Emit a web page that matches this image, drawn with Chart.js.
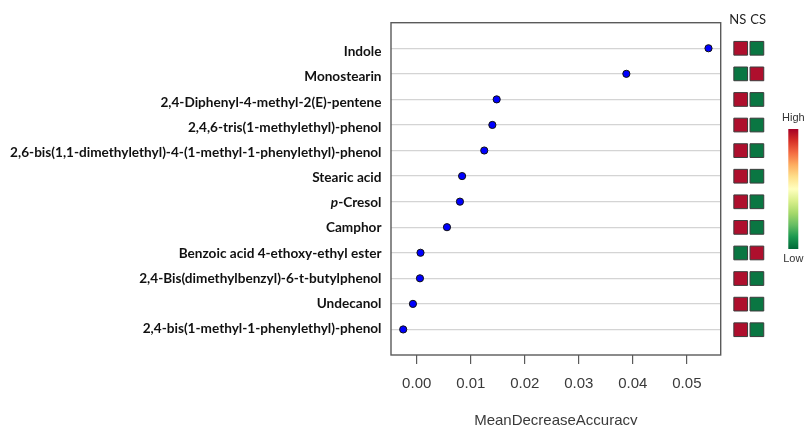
<!DOCTYPE html>
<html>
<head>
<meta charset="utf-8">
<script src="https://cdn.jsdelivr.net/npm/chart.js@4.4.1/dist/chart.umd.min.js"></script>
<style>
  html, body { margin: 0; padding: 0; background: #fff; }
  #wrap { position: relative; width: 805px; height: 425px; overflow: hidden; }
  #dots { position: absolute; left: 0; top: 0; }
  #heat { position: absolute; left: 720px; top: 0; }
</style>
</head>
<body>
<div id="wrap">
  <canvas id="dots" width="805" height="425"></canvas>
  <canvas id="heat" width="85" height="425"></canvas>
</div>
<script>
// compounds, top to bottom
const compounds = [
  'Indole',
  'Monostearin',
  '2,4-Diphenyl-4-methyl-2(E)-pentene',
  '2,4,6-tris(1-methylethyl)-phenol',
  '2,6-bis(1,1-dimethylethyl)-4-(1-methyl-1-phenylethyl)-phenol',
  'Stearic acid',
  'p-Cresol',
  'Camphor',
  'Benzoic acid 4-ethoxy-ethyl ester',
  '2,4-Bis(dimethylbenzyl)-6-t-butylphenol',
  'Undecanol',
  '2,4-bis(1-methyl-1-phenylethyl)-phenol'
];
const meanDecreaseAccuracy = [0.0540, 0.0388, 0.0148, 0.0140, 0.0125, 0.0084, 0.0080, 0.0056, 0.0007, 0.0006, -0.0007, -0.0025];

// relative level per group: 1 = High, 0 = Low
const groups = ['NS', 'CS'];
const nsLevel = [1, 0, 1, 1, 1, 1, 1, 1, 0, 1, 1, 1];
const csLevel = [0, 1, 0, 0, 0, 0, 0, 0, 1, 0, 0, 0];

const xTicks = [0, 0.01, 0.02, 0.03, 0.04, 0.05];
const xMin = -0.00476, xMax = 0.05626;

const n = compounds.length;
const rowOf = i => n - i;

const highColor = '#ae0f2d';
const lowColor = '#0a7642';
const labelFont = 'bold 13.6px Lato';

// box around the plot + bold labels (p in italics)
const dotDecor = {
  id: 'dotDecor',
  afterDraw(chart) {
    const {ctx, chartArea: a, scales} = chart;
    ctx.save();
    ctx.strokeStyle = '#5a5a5a';
    ctx.lineWidth = 1.4;
    ctx.strokeRect(a.left, a.top, a.right - a.left, a.bottom - a.top);

    ctx.fillStyle = '#111';
    ctx.textAlign = 'right';
    ctx.textBaseline = 'alphabetic';
    const xr = a.left - 9.5;
    compounds.forEach((name, i) => {
      const y = scales.y.getPixelForValue(rowOf(i)) + 8 - 0.4 * i;
      ctx.font = labelFont;
      if (name.startsWith('p-')) {
        const rest = name.slice(1);
        ctx.fillText(rest, xr, y);
        const w = ctx.measureText(rest).width;
        ctx.font = 'italic ' + labelFont;
        ctx.fillText('p', xr - w, y);
      } else {
        ctx.fillText(name, xr, y);
      }
    });
    ctx.restore();
  }
};

new Chart(document.getElementById('dots'), {
  type: 'scatter',
  data: {
    datasets: [{
      data: meanDecreaseAccuracy.map((v, i) => ({x: v, y: rowOf(i)})),
      backgroundColor: '#0000ff',
      borderColor: '#111',
      borderWidth: 1,
      pointRadius: 3.6,
      clip: false
    }]
  },
  options: {
    responsive: false,
    devicePixelRatio: 1,
    animation: false,
    layout: { padding: { top: 22.7, right: 84.3, left: 0, bottom: 0 } },
    plugins: { legend: { display: false }, tooltip: { enabled: false } },
    scales: {
      x: {
        type: 'linear',
        min: xMin,
        max: xMax,
        afterBuildTicks: s => { s.ticks = xTicks.map(v => ({value: v})); },
        afterFit: s => { s.height = 70; },
        border: { display: false },
        grid: { drawOnChartArea: false, drawTicks: true, tickLength: 9, color: '#5a5a5a', lineWidth: 1.2 },
        ticks: {
          padding: 11,
          color: '#3a3a3a',
          font: { family: 'Liberation Sans', size: 15 },
          callback: v => v.toFixed(2)
        },
        title: {
          display: true,
          text: 'MeanDecreaseAccuracy',
          color: '#3a3a3a',
          font: { family: 'Liberation Sans', size: 15, lineHeight: 0.6 },
          padding: 0
        }
      },
      y: {
        type: 'linear',
        min: 0,
        max: n + 1,
        afterBuildTicks: s => { s.ticks = compounds.map((c, i) => ({value: rowOf(i)})); },
        afterFit: s => { s.width = 391; },
        border: { display: false },
        grid: { drawTicks: false, color: '#d4d4d4', lineWidth: 1.2 },
        ticks: { display: false }
      }
    }
  },
  plugins: [dotDecor]
});

// NS / CS headers and High-Low colour key
const heatDecor = {
  id: 'heatDecor',
  afterDraw(chart) {
    const {ctx, scales} = chart;
    ctx.save();
    ctx.fillStyle = '#222';
    ctx.font = '13px Lato';
    ctx.textBaseline = 'middle';
    const mid = (scales.x.getPixelForValue(0) + scales.x.getPixelForValue(1)) / 2;
    ctx.textAlign = 'right';
    ctx.fillText(groups[0], mid - 2.5, 20);
    ctx.textAlign = 'left';
    ctx.fillText(groups[1], mid + 1.5, 20);

    const bx = 68.3, by = 129, bw = 10, bh = 120;
    const grad = ctx.createLinearGradient(0, by, 0, by + bh);
    ['#a50026', '#d73027', '#f46d43', '#fdae61', '#fee08b', '#ffffbf', '#d9ef8b', '#a6d96a', '#66bd63', '#1a9850', '#006837']
      .forEach((c, k, arr) => grad.addColorStop(k / (arr.length - 1), c));
    ctx.fillStyle = grad;
    ctx.fillRect(bx, by, bw, bh);

    ctx.fillStyle = '#333';
    ctx.textAlign = 'center';
    ctx.font = '11px Liberation Sans';
    ctx.fillText('High', bx + bw / 2, 118);
    ctx.fillText('Low', bx + bw / 2, 259);
    ctx.restore();
  }
};

const cells = [];
compounds.forEach((c, i) => {
  cells.push({x: 'NS', y: rowOf(i), level: nsLevel[i]});
  cells.push({x: 'CS', y: rowOf(i), level: csLevel[i]});
});

new Chart(document.getElementById('heat'), {
  type: 'scatter',
  data: {
    labels: groups,
    datasets: [{
      data: cells,
      pointStyle: 'rect',
      pointRadius: 9.7,
      borderWidth: 1,
      borderColor: '#3c3c3c',
      backgroundColor: ctx => (ctx.raw && ctx.raw.level ? highColor : lowColor),
      clip: false
    }]
  },
  options: {
    responsive: false,
    devicePixelRatio: 1,
    animation: false,
    layout: { padding: { top: 22.7, bottom: 69.7, left: 12.6, right: 40 } },
    plugins: { legend: { display: false }, tooltip: { enabled: false } },
    scales: {
      x: { type: 'category', labels: groups, offset: true, display: false },
      y: { type: 'linear', min: 0, max: n + 1, display: false }
    }
  },
  plugins: [heatDecor]
});
</script>
</body>
</html>
